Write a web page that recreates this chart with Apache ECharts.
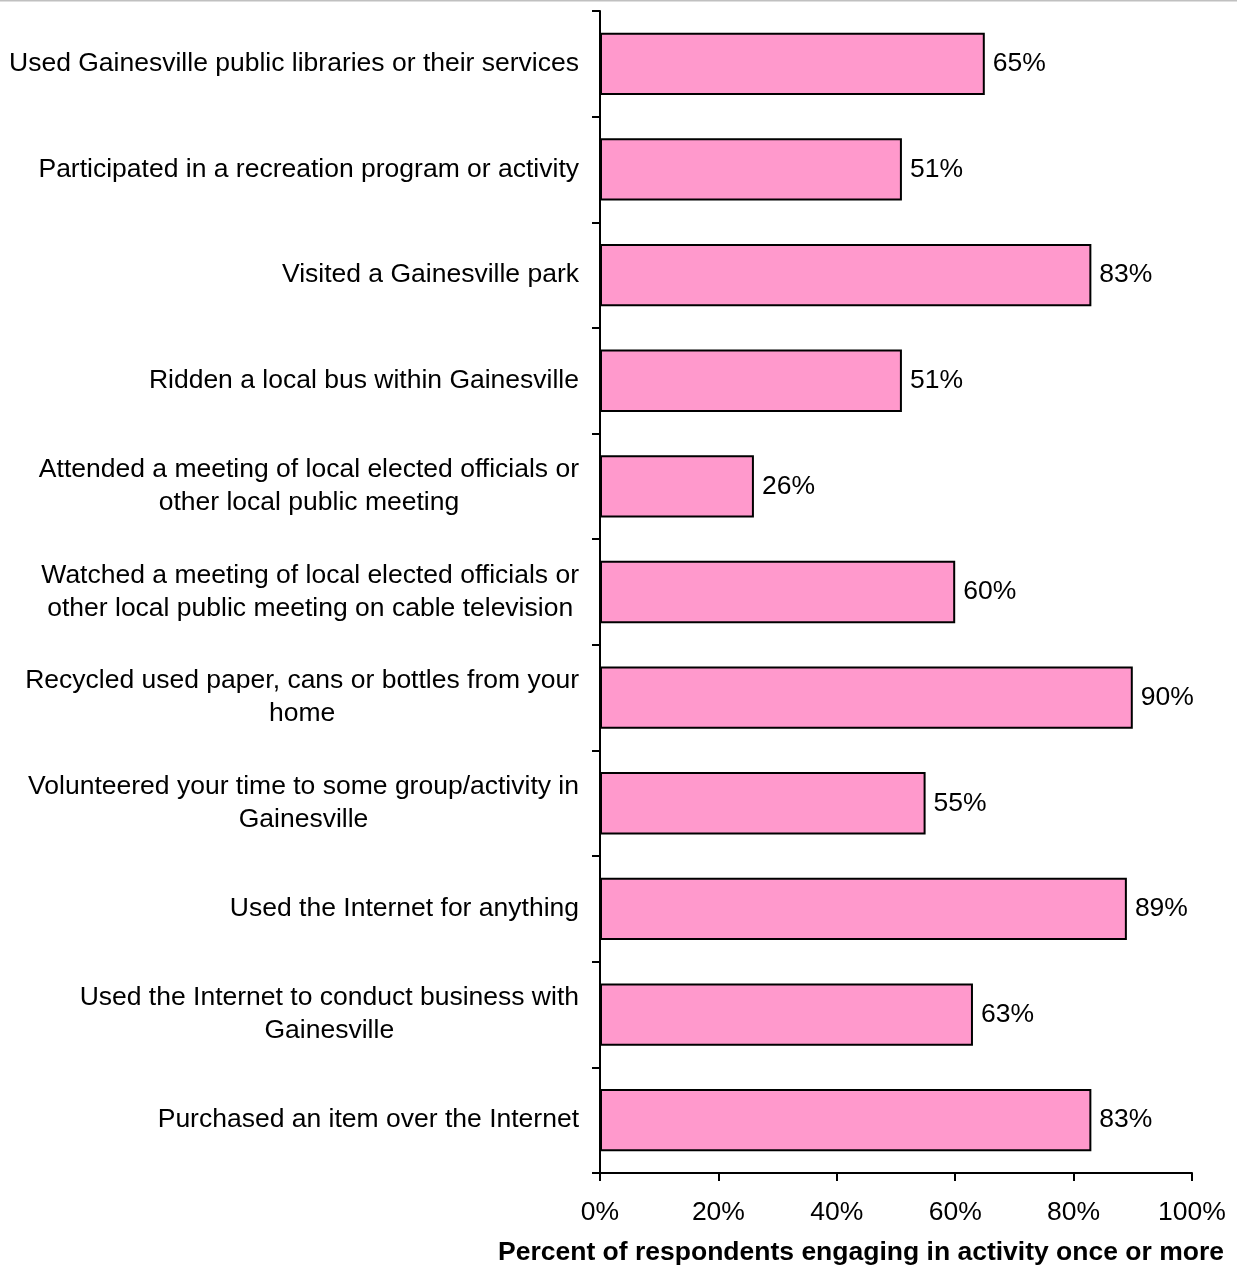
<!DOCTYPE html>
<html>
<head>
<meta charset="utf-8">
<script src="https://cdn.jsdelivr.net/npm/echarts@6/dist/echarts.min.js"></script>
<style>
  html, body { margin: 0; padding: 0; background: #fff; }
  #chart { width: 1237px; height: 1287px; }
</style>
</head>
<body>
<div id="chart"></div>
<script>
// Activity categories, top to bottom (lines split where the label wraps)
const categories = [
  'Used Gainesville public libraries or their services',
  'Participated in a recreation program or activity',
  'Visited a Gainesville park',
  'Ridden a local bus within Gainesville',
  'Attended a meeting of local elected officials or\nother local public meeting',
  'Watched a meeting of local elected officials or\nother local public meeting on cable television',
  'Recycled used paper, cans or bottles from your\nhome',
  'Volunteered your time to some group/activity in\nGainesville',
  'Used the Internet for anything',
  'Used the Internet to conduct business with\nGainesville',
  'Purchased an item over the Internet'
];

// Percent of respondents engaging in each activity once or more
const percents = [65, 51, 83, 51, 26, 60, 90, 55, 89, 63, 83];

// X axis tick values
const xTicks = [0, 20, 40, 60, 80, 100];

const axisTitle = 'Percent of respondents engaging in activity once or more';

const FONT = '"Liberation Sans", Arial, sans-serif';
const FS = 26.5;

const chart = echarts.init(document.getElementById('chart'), null, { renderer: 'canvas' });

chart.setOption({
  animation: false,
  backgroundColor: '#ffffff',
  grid: { left: 600, right: 45, top: 11, bottom: 114, containLabel: false },
  xAxis: {
    type: 'value',
    min: xTicks[0],
    max: xTicks[xTicks.length - 1],
    interval: xTicks[1] - xTicks[0],
    axisLine: { show: true, lineStyle: { color: '#000', width: 2 } },
    axisTick: { show: true, inside: false, length: 8, lineStyle: { color: '#000', width: 2 } },
    splitLine: { show: false },
    axisLabel: {
      formatter: '{value}%',
      color: '#000',
      fontFamily: FONT,
      fontSize: FS,
      margin: 26
    }
  },
  yAxis: {
    type: 'category',
    data: categories,
    inverse: true,
    axisLine: { show: true, lineStyle: { color: '#000', width: 2 } },
    axisTick: { show: true, inside: false, length: 8, alignWithLabel: false, lineStyle: { color: '#000', width: 2 } },
    splitLine: { show: false },
    axisLabel: {
      margin: 21,
      interval: 0,
      formatter: function (v) {
        return v.split('\n').map(function (s) { return '{c|' + s + '}'; }).join('\n');
      },
      rich: {
        c: {
          align: 'center',
          color: '#000',
          fontFamily: FONT,
          fontSize: FS,
          lineHeight: 33
        }
      }
    }
  },
  series: [{
    type: 'bar',
    data: percents,
    barWidth: '59%',
    itemStyle: { color: '#FF99CC', borderColor: '#000', borderWidth: 2 },
    label: {
      show: true,
      position: 'right',
      distance: 8,
      formatter: '{c}%',
      color: '#000',
      fontFamily: FONT,
      fontSize: FS
    }
  }],
  graphic: [
    {
      type: 'line',
      shape: { x1: 0, y1: 0.5, x2: 1237, y2: 0.5 },
      style: { stroke: '#c0c0c0', lineWidth: 2 }
    },
    {
      type: 'text',
      right: 13,
      top: 1239,
      style: {
        text: axisTitle,
        fill: '#000',
        font: 'bold ' + FS + 'px ' + FONT
      }
    }
  ]
});
</script>
</body>
</html>
